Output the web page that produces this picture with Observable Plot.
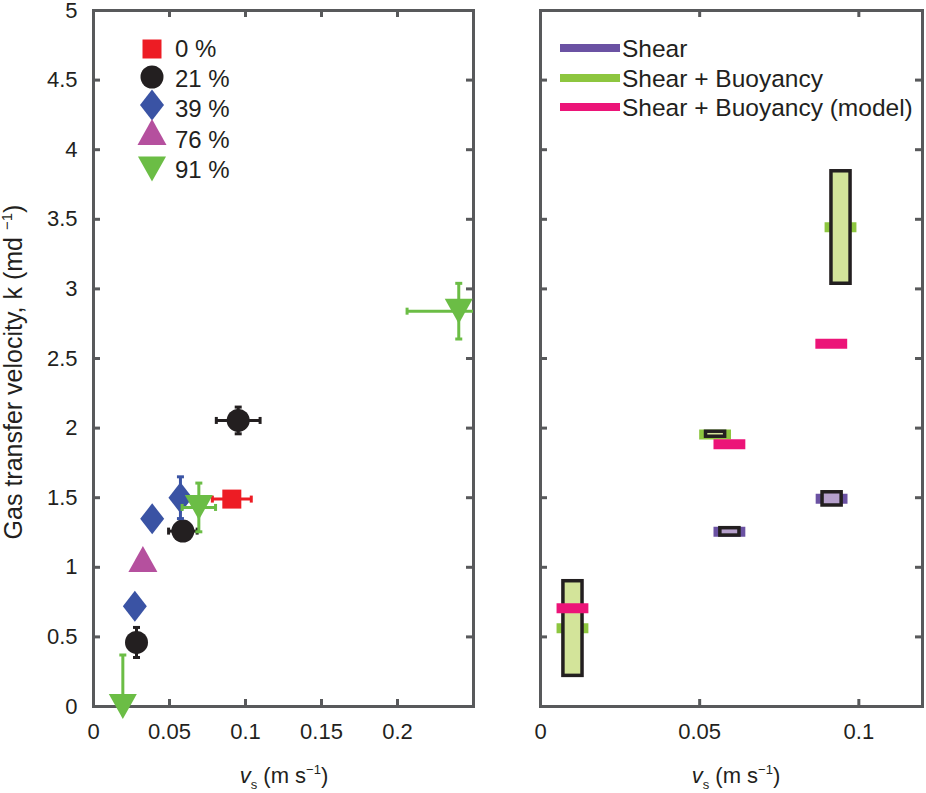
<!DOCTYPE html>
<html><head><meta charset="utf-8">
<script src="https://cdn.jsdelivr.net/npm/d3@7"></script>
<script src="https://cdn.jsdelivr.net/npm/@observablehq/plot@0.6"></script>
<style>
body{margin:0;background:#fff;}
#wrap{position:relative;width:926px;height:793px;overflow:hidden;background:#fff;}
#wrap svg{position:absolute;top:0;}
</style></head><body><div id="wrap"></div>
<script>
// ---------- Left panel data ----------
const groups = ["0 %", "21 %", "39 %", "76 %", "91 %"];
const groupColors = ["#ed1c24", "#231f20", "#3a53a4", "#b5509e", "#6bbd45"];
const ptGroup = [0, 1, 1, 1, 2, 2, 2, 3, 4, 4, 4];
const ptX     = [0.091, 0.0283, 0.0588, 0.0952, 0.0272, 0.0386, 0.0572, 0.0325, 0.0193, 0.0693, 0.2403];
const ptY     = [1.49, 0.46, 1.26, 2.055, 0.72, 1.348, 1.50, 1.06, 0.0, 1.43, 2.84];
const ptXErr  = [0.0128, 0, 0.0094, 0.0144, 0, 0, 0, 0, 0, 0.011, 0.034];
const ptYErr  = [0, 0.108, 0, 0.096, 0, 0, 0.15, 0, 0.37, 0.175, 0.2];
const leftXTicks = [0, 0.05, 0.1, 0.15, 0.2];
const yTicks = [0, 0.5, 1, 1.5, 2, 2.5, 3, 3.5, 4, 4.5, 5];

// ---------- Right panel data ----------
const seriesNames = ["Shear", "Shear + Buoyancy", "Shear + Buoyancy (model)"];
const seriesColors = ["#6b52a3", "#8dc63f", "#ec1478"];
const boxFills = ["#b6a0cc", "#d3e49a"];
const shearX = [0.0595, 0.0916];
const shearMean = [1.255, 1.492];
const shearLo = [1.228, 1.444];
const shearHi = [1.281, 1.539];
const buoyX = [0.0102, 0.0550, 0.0944];
const buoyMean = [0.5625, 1.954, 3.443];
const buoyLo = [0.22, 1.938, 3.037];
const buoyHi = [0.90, 1.974, 3.845];
const modelX = [0.0102, 0.0595, 0.0915];
const modelY = [0.706, 1.884, 2.606];
const rightXTicks = [0, 0.05, 0.1];

// ---------- Layout / style ----------
const H = 793, mT = 10, mB = 87, plotH = H - mT - mB, TL = 7;
const frameColor = "#58595b", ink = "#231f20";
const font = "'Liberation Sans', Arial, Helvetica, sans-serif";
const style = {fontFamily: font, fontSize: "22px", color: ink, background: "transparent", overflow: "visible"};

function poly(pts){ return {draw(c){ c.moveTo(pts[0][0], pts[0][1]); for (let i = 1; i < pts.length; i++) c.lineTo(pts[i][0], pts[i][1]); c.closePath(); }}; }
const syms = [
  poly([[-9.5,-9.5],[9.5,-9.5],[9.5,9.5],[-9.5,9.5]]),
  {draw(c){ c.moveTo(11.5,0); c.arc(0,0,11.5,0,2*Math.PI); c.closePath(); }},
  poly([[0,-15.5],[12,0],[0,15.5],[-12,0]]),
  poly([[0,-13],[14.5,13],[-14.5,13]]),
  poly([[0,12.5],[14,-12.5],[-14,-12.5]])
];
const capH = {draw(c){ c.moveTo(-3.5,0); c.lineTo(3.5,0); }};
const capV = {draw(c){ c.moveTo(0,-3.5); c.lineTo(0,3.5); }};

function frameTicks(xInner, yInner, plotW){
  const o = {stroke: frameColor, strokeWidth: 3};
  return [
    Plot.frame({stroke: frameColor, strokeWidth: 3}),
    Plot.tickX(xInner, {x: d => d, insetTop: plotH - TL, ...o}),
    Plot.tickX(xInner, {x: d => d, insetBottom: plotH - TL, ...o}),
    Plot.tickY(yInner, {y: d => d, insetRight: plotW - TL, ...o}),
    Plot.tickY(yInner, {y: d => d, insetLeft: plotW - TL, ...o})
  ];
}
const fmtX = d => String(+d.toFixed(2));

// ---------- Left panel ----------
const LW = 480, LmL = 93, LmR = 7, LplotW = LW - LmL - LmR;
const xMaxL = 0.25;
const pts = ptX.map((x, i) => ({x, y: ptY[i], ex: ptXErr[i], ey: ptYErr[i], g: ptGroup[i]}));
const leftMarks = [...frameTicks(leftXTicks.slice(1), yTicks.slice(1, -1), LplotW)];
groups.forEach((name, g) => {
  const gp = pts.filter(p => p.g === g);
  const c = groupColors[g];
  const vy = gp.filter(p => p.ey > 0);
  const hx = gp.filter(p => p.ex > 0);
  leftMarks.push(
    Plot.ruleX(vy, {x: "x", y1: p => Math.max(0, p.y - p.ey), y2: p => p.y + p.ey, stroke: c, strokeWidth: 3}),
    Plot.dot(vy, {x: "x", y: p => p.y + p.ey, symbol: capH, stroke: c, strokeWidth: 3, fill: "none"}),
    Plot.dot(vy.filter(p => p.y - p.ey >= 0), {x: "x", y: p => p.y - p.ey, symbol: capH, stroke: c, strokeWidth: 3, fill: "none"}),
    Plot.ruleY(hx, {y: "y", x1: p => p.x - p.ex, x2: p => Math.min(xMaxL, p.x + p.ex), stroke: c, strokeWidth: 3}),
    Plot.dot(hx, {x: p => p.x - p.ex, y: "y", symbol: capV, stroke: c, strokeWidth: 3, fill: "none"}),
    Plot.dot(hx.filter(p => p.x + p.ex <= xMaxL), {x: p => p.x + p.ex, y: "y", symbol: capV, stroke: c, strokeWidth: 3, fill: "none"}),
    Plot.dot(gp, {x: "x", y: "y", symbol: syms[g], fill: c, stroke: "none"})
  );
});
leftMarks.push(
  Plot.axisX(leftXTicks, {anchor: "bottom", tickSize: 0, tickPadding: 17, tickFormat: fmtX, fill: ink, label: null}),
  Plot.axisY(yTicks, {anchor: "left", tickSize: 0, tickPadding: 16, tickFormat: d => String(d), fill: ink, label: null})
);
const left = Plot.plot({
  width: LW, height: H, marginLeft: LmL, marginRight: LmR, marginTop: mT, marginBottom: mB,
  x: {domain: [0, xMaxL], label: null}, y: {domain: [0, 5], label: null},
  style, marks: leftMarks
});
left.style.left = "0px";

// ---------- Right panel ----------
const RW = 446, RmL = 60, RmR = 4, RplotW = RW - RmL - RmR;
const segHalf = 0.005, boxHalf = 0.003;
const shear = shearX.map((x, i) => ({x, m: shearMean[i], lo: shearLo[i], hi: shearHi[i]}));
const buoy = buoyX.map((x, i) => ({x, m: buoyMean[i], lo: buoyLo[i], hi: buoyHi[i]}));
const model = modelX.map((x, i) => ({x, m: modelY[i]}));
const seg = (data, c) => Plot.ruleY(data, {y: "m", x1: d => d.x - segHalf, x2: d => d.x + segHalf, stroke: c, strokeWidth: 10});
const box = (data, f) => Plot.rect(data, {x1: d => d.x - boxHalf, x2: d => d.x + boxHalf, y1: "lo", y2: "hi", fill: f, stroke: ink, strokeWidth: 3.5});
const right = Plot.plot({
  width: RW, height: H, marginLeft: RmL, marginRight: RmR, marginTop: mT, marginBottom: mB,
  x: {domain: [0, 0.12], label: null}, y: {domain: [0, 5], label: null, axis: null},
  style,
  marks: [
    ...frameTicks(rightXTicks.slice(1), yTicks.slice(1, -1), RplotW),
    seg(shear, seriesColors[0]),
    seg(buoy, seriesColors[1]),
    box(shear, boxFills[0]),
    box(buoy, boxFills[1]),
    seg(model, seriesColors[2]),
    Plot.axisX(rightXTicks, {anchor: "bottom", tickSize: 0, tickPadding: 17, tickFormat: fmtX, fill: ink, label: null})
  ]
});
right.style.left = LW + "px";

const wrap = document.getElementById("wrap");
wrap.appendChild(left);
wrap.appendChild(right);

// ---------- Legends & axis titles ----------
const L = d3.select(left);
const legMarkY = [49, 77, 105, 132, 169];
const legTextY = [48, 78, 108, 139, 169];
const lg = L.append("g").attr("text-anchor", "start");
groups.forEach((name, i) => {
  lg.append("path").attr("d", d3.symbol().type(syms[i])()).attr("transform", `translate(152,${legMarkY[i]})`).attr("fill", groupColors[i]);
  lg.append("text").attr("x", 175).attr("y", legTextY[i]).attr("dy", "0.36em").attr("text-anchor", "start")
    .attr("font-family", font).attr("font-size", 24).attr("fill", ink).text(name);
});

function xTitle(sel, cx){
  const t = sel.append("text").attr("x", cx).attr("y", 783).attr("text-anchor", "middle")
    .attr("font-family", font).attr("font-size", 22).attr("fill", ink);
  t.append("tspan").attr("font-style", "italic").text("v");
  t.append("tspan").attr("font-size", 13).attr("dy", 6).text("s");
  t.append("tspan").attr("dy", -6).text(" (m s");
  t.append("tspan").attr("font-size", 13).attr("dy", -9).text("−1");
  t.append("tspan").attr("dy", 9).text(")");
}
xTitle(L, 284);

const yt = L.append("text").attr("transform", "translate(22,372) rotate(-90)").attr("text-anchor", "middle")
  .attr("font-family", font).attr("font-size", 25).attr("fill", ink);
yt.append("tspan").text("Gas transfer velocity, k (md ");
yt.append("tspan").attr("font-size", 15).attr("dy", -10).text("−1");
yt.append("tspan").attr("dy", 10).text(")");

const R = d3.select(right);
const rRows = [48, 78, 107];
seriesNames.forEach((name, i) => {
  R.append("line").attr("x1", 80).attr("x2", 140).attr("y1", rRows[i]).attr("y2", rRows[i])
    .attr("stroke", seriesColors[i]).attr("stroke-width", 8);
  R.append("text").attr("x", 142).attr("y", rRows[i]).attr("dy", "0.36em").attr("text-anchor", "start")
    .attr("font-family", font).attr("font-size", 24.5).attr("fill", ink).text(name);
});
xTitle(R, 256);
</script></body></html>
